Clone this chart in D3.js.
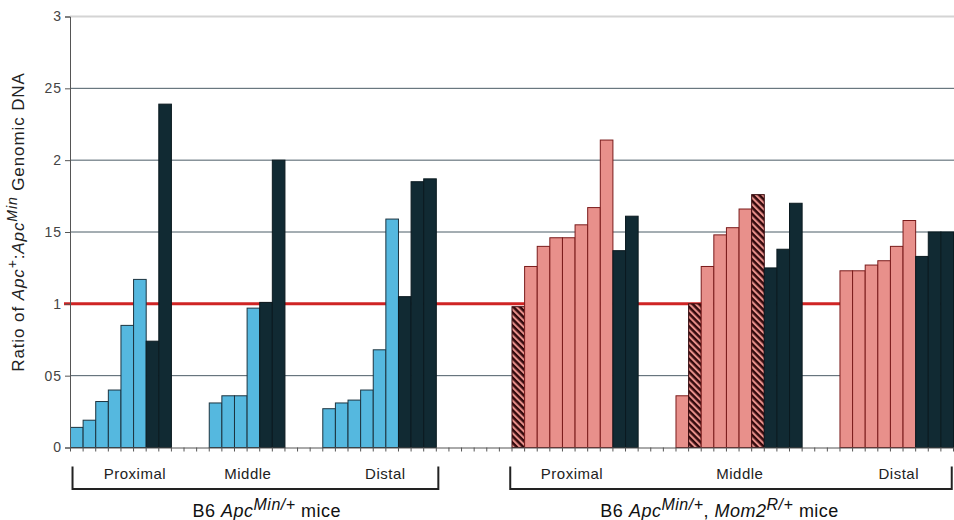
<!DOCTYPE html>
<html>
<head>
<meta charset="utf-8">
<script src="https://cdn.jsdelivr.net/npm/d3@7"></script>
<style>
  body { margin: 0; background: #fff; }
  svg { font-family: "Liberation Sans", Arial, sans-serif; }
</style>
</head>
<body>
<svg width="954" height="520"></svg>
<script>
// bar heights, one array per colon segment
// kind: b = blue (Min), k = dark, p = pink (Mom2), h = hatched pink
const minProximal = [0.14, 0.19, 0.32, 0.40, 0.85, 1.17, 0.74, 2.39];
const minProximalKind = ["b", "b", "b", "b", "b", "b", "k", "k"];
const minMiddle = [0.31, 0.36, 0.36, 0.97, 1.01, 2.0];
const minMiddleKind = ["b", "b", "b", "b", "k", "k"];
const minDistal = [0.27, 0.31, 0.33, 0.40, 0.68, 1.59, 1.05, 1.85, 1.87];
const minDistalKind = ["b", "b", "b", "b", "b", "b", "k", "k", "k"];
const momProximal = [0.98, 1.26, 1.40, 1.46, 1.46, 1.55, 1.67, 2.14, 1.37, 1.61];
const momProximalKind = ["h", "p", "p", "p", "p", "p", "p", "p", "k", "k"];
const momMiddle = [0.36, 1.0, 1.26, 1.48, 1.53, 1.66, 1.76, 1.25, 1.38, 1.70];
const momMiddleKind = ["p", "h", "p", "p", "p", "p", "h", "k", "k", "k"];
const momDistal = [1.23, 1.23, 1.27, 1.30, 1.40, 1.58, 1.33, 1.50, 1.50];
const momDistalKind = ["p", "p", "p", "p", "p", "p", "k", "k", "k"];

const segStart = [0, 11, 20, 35, 48, 61]; // first slot of each segment
const segLabels = ["Proximal", "Middle", "Distal"];
const yTicks = [0, 0.5, 1, 1.5, 2, 2.5, 3];
const yTickLabels = ["0", "05", "1", "15", "2", "25", "3"];

const svg = d3.select("svg");

const x = d3.scaleLinear().domain([0, 70]).range([70, 953]);
const y = d3.scaleLinear().domain([0, 3]).range([447.5, 16.5]);

const fills = { b: "#55b8df", k: "#112a33", p: "#e8908b", h: "url(#hatch)" };
const strokes = { b: "#1c3440", k: "#0b1a20", p: "#7a1b1b", h: "#3a0c10" };

// hatch pattern for the hatched bars
const pat = svg.append("defs").append("pattern")
    .attr("id", "hatch")
    .attr("patternUnits", "userSpaceOnUse")
    .attr("width", 4.6).attr("height", 4.6)
    .attr("patternTransform", "rotate(45)");
pat.append("rect").attr("width", 4.6).attr("height", 4.6).attr("fill", "#e8908b");
pat.append("rect").attr("width", 4.6).attr("height", 2.5).attr("fill", "#33090c");

const segments = [
    [minProximal, minProximalKind], [minMiddle, minMiddleKind], [minDistal, minDistalKind],
    [momProximal, momProximalKind], [momMiddle, momMiddleKind], [momDistal, momDistalKind]
];
const bars = segments.flatMap((s, i) =>
    s[0].map((v, j) => ({ slot: segStart[i] + j, v: v, kind: s[1][j] })));

// gridlines
svg.append("g").selectAll("line")
    .data(yTicks.filter(t => t > 0 && t !== 1))
    .join("line")
    .attr("x1", x(0)).attr("x2", 954)
    .attr("y1", d => y(d)).attr("y2", d => y(d))
    .attr("stroke", d => d === 3 ? "#d4d4d4" : "#4b5c66")
    .attr("stroke-width", d => d === 3 ? 2 : 1);

// reference line at ratio 1
svg.append("line")
    .attr("x1", 64).attr("x2", 954)
    .attr("y1", y(1)).attr("y2", y(1))
    .attr("stroke", "#cf2424")
    .attr("stroke-width", 3);

svg.append("g").selectAll("rect")
    .data(bars)
    .join("rect")
    .attr("x", d => x(d.slot) + 0.5)
    .attr("width", d => x(d.slot + 1) - x(d.slot))
    .attr("y", d => y(d.v))
    .attr("height", d => y(0) - y(d.v))
    .attr("fill", d => fills[d.kind])
    .attr("stroke", d => strokes[d.kind])
    .attr("stroke-width", 1);

// axes
const yAxis = svg.append("g")
    .attr("transform", `translate(${x(0)},0)`)
    .call(d3.axisLeft(y).tickValues(yTicks)
        .tickFormat((d, i) => yTickLabels[i])
        .tickSize(5).tickPadding(3));
yAxis.select(".domain").attr("stroke", "#555");
yAxis.selectAll(".tick line").attr("stroke", "#555");
yAxis.selectAll("text")
    .attr("fill", "#444")
    .style("font-size", "14px")
    .style("letter-spacing", "1px")
    .style("font-family", "Liberation Sans, Arial, sans-serif");

const xAxis = svg.append("g")
    .attr("transform", `translate(0,${y(0)})`)
    .call(d3.axisBottom(x).tickValues(d3.range(0, 71))
        .tickFormat("").tickSizeInner(4).tickSizeOuter(0));
xAxis.select(".domain").attr("stroke", "#555");
xAxis.selectAll(".tick line").attr("stroke", "#555");

// y label
const ylab = svg.append("text")
    .attr("transform", "translate(24,222) rotate(-90)")
    .attr("text-anchor", "middle")
    .attr("fill", "#222")
    .style("font-size", "17px")
    .style("letter-spacing", "0.9px");
ylab.append("tspan").text("Ratio of ");
ylab.append("tspan").style("font-style", "italic").text("Apc");
ylab.append("tspan").attr("dy", -7).style("font-size", "14px").text("+");
ylab.append("tspan").attr("dy", 7).text(":");
ylab.append("tspan").style("font-style", "italic").text("Apc");
ylab.append("tspan").attr("dy", -7).style("font-size", "14px").style("font-style", "italic").text("Min");
ylab.append("tspan").attr("dy", 7).text(" Genomic DNA");

// brackets under the two groups
const brackets = [[0.2, 29.2], [34.9, 69.9]];
svg.append("g").selectAll("path")
    .data(brackets)
    .join("path")
    .attr("d", d => `M${x(d[0])},466.5V489H${x(d[1])}V466.5`)
    .attr("fill", "none")
    .attr("stroke", "#222")
    .attr("stroke-width", 2);

const labelSlots = [5.15, 14.1, 25, 39.8, 53.1, 65.7];
svg.append("g").selectAll("text")
    .data(labelSlots)
    .join("text")
    .attr("x", d => x(d))
    .attr("y", 478.5)
    .attr("text-anchor", "middle")
    .attr("fill", "#222")
    .style("font-size", "15px")
    .style("letter-spacing", "0.5px")
    .text((d, i) => segLabels[i % 3]);

function groupTitle(cx, parts) {
    const t = svg.append("text")
        .attr("x", x(cx)).attr("y", 517)
        .attr("text-anchor", "middle")
        .attr("fill", "#111")
        .style("font-size", "18px")
        .style("letter-spacing", "0.5px");
    parts.forEach(p => {
        const s = t.append("tspan").text(p.t);
        if (p.i) s.style("font-style", "italic");
        if (p.dy) s.attr("dy", p.dy);
        if (p.sup) s.style("font-size", "16px");
    });
}
groupTitle(15.6, [
    { t: "B6 " }, { t: "Apc", i: 1 }, { t: "Min/+", i: 1, sup: 1, dy: -7 }, { t: " mice", dy: 7 }
]);
groupTitle(51.5, [
    { t: "B6 " }, { t: "Apc", i: 1 }, { t: "Min/+", i: 1, sup: 1, dy: -7 }, { t: ", ", dy: 7 },
    { t: "Mom2", i: 1 }, { t: "R/+", i: 1, sup: 1, dy: -7 }, { t: " mice", dy: 7 }
]);
</script>
</body>
</html>
